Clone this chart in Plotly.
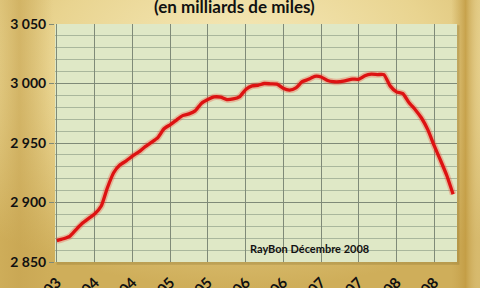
import base64
import plotly.graph_objects as go
import pandas as pd

# monthly values, juil-03 .. oct-08 (en milliards de miles)
months = pd.date_range("2003-07-01", periods=64, freq="MS")
values = [
    2868, 2869.5, 2871.5, 2877, 2882.5, 2886.5, 2890.5, 2897, 2912, 2925,
    2931.5, 2935, 2939, 2942.5, 2947, 2950.5, 2954.5, 2962, 2965.5, 2969.5,
    2973, 2974.5, 2977, 2983.5, 2986.5, 2988.7, 2988.5, 2986.5, 2987, 2988.7,
    2995, 2998, 2998.5, 3000, 2999.7, 2999.5, 2996, 2994.5, 2996.3, 3001.5,
    3003.5, 3006, 3005.5, 3002.5, 3001.5, 3001.5, 3002.5, 3003.7, 3003.5, 3006.5,
    3007.8, 3007.5, 3007.5, 2998, 2993, 2991.5, 2984, 2978, 2971, 2961,
    2948, 2935.5, 2922.5, 2907,
]
x_tick_dates = ["2003-07-01", "2004-01-01", "2004-07-01", "2005-01-01", "2005-07-01",
                "2006-01-01", "2006-07-01", "2007-01-01", "2007-07-01", "2008-01-01",
                "2008-07-01"]
x_tick_labels = ["juil-03", "janv-04", "juil-04", "janv-05", "juil-05", "janv-06",
                 "juil-06", "janv-07", "juil-07", "janv-08", "juil-08"]
y_tick_vals = [2850, 2900, 2950, 3000, 3050]
y_tick_labels = ["2 850", "2 900", "2 950", "3 000", "3 050"]

FONT = "Lato"

# golden gradient background (inline SVG, no network)
svg = """<svg xmlns='http://www.w3.org/2000/svg' width='480' height='288' viewBox='0 0 480 288' preserveAspectRatio='none'>
<defs>
<radialGradient id='g' cx='0.5' cy='0.2' r='0.8'>
<stop offset='0' stop-color='#f6ebbd'/>
<stop offset='0.5' stop-color='#e9d490'/>
<stop offset='1' stop-color='#cfae5a'/>
</radialGradient>
<linearGradient id='h' x1='0' y1='0' x2='1' y2='0'>
<stop offset='0' stop-color='#c7a451' stop-opacity='0.1'/>
<stop offset='0.04' stop-color='#c7a451' stop-opacity='0.6'/>
<stop offset='0.11' stop-color='#c7a451' stop-opacity='0.0'/>
<stop offset='0.94' stop-color='#c7a451' stop-opacity='0.0'/>
<stop offset='0.97' stop-color='#c29b42' stop-opacity='0.85'/>
<stop offset='1' stop-color='#e9d69a' stop-opacity='0.3'/>
</linearGradient>
</defs>
<rect width='480' height='288' fill='url(#g)'/>
<rect width='480' height='288' fill='url(#h)'/>
</svg>"""
bg_src = "data:image/svg+xml;base64," + base64.b64encode(svg.encode()).decode()

fig = go.Figure()
fig.add_trace(go.Scatter(
    x=months, y=values, mode="lines",
    line=dict(color="rgba(240,70,50,0.3)", width=6.5, shape="spline", smoothing=0.5),
    hoverinfo="skip", showlegend=False))
fig.add_trace(go.Scatter(
    x=months, y=values, mode="lines",
    line=dict(color="#dd1212", width=3.3, shape="spline", smoothing=0.5),
    showlegend=False))

fig.update_layout(
    width=480, height=288,
    margin=dict(l=55, r=23, t=24, b=26, autoexpand=False),
    paper_bgcolor="#e6cf8a",
    plot_bgcolor="#dfe8c6",
    font=dict(family=FONT, color="#111111"),
    images=[dict(source=bg_src, xref="paper", yref="paper",
                 x=-55 / 402, y=1 + 24 / 238, sizex=480 / 402, sizey=288 / 238,
                 xanchor="left", yanchor="top", sizing="stretch", layer="below")],
    shapes=[
        # plot-area shadow and fill
        dict(type="rect", xref="paper", yref="paper", x0=0.004, x1=1.006, y0=-0.012, y1=0.995,
             fillcolor="rgba(120,100,40,0.25)", line_width=0, layer="below"),
        dict(type="rect", xref="paper", yref="paper", x0=0, x1=1, y0=0, y1=1,
             fillcolor="#dfe8c6", line_width=0, layer="below"),
    ],
    xaxis=dict(
        range=["2003-06-22", "2008-10-20"],
        tickvals=x_tick_dates, ticktext=x_tick_labels, tickangle=-45,
        showgrid=True, gridcolor="#7f8a78", gridwidth=1,
        ticks="outside", ticklen=5, tickcolor="rgba(0,0,0,0)",
        tickfont=dict(size=15, family=FONT, color="#111111", weight="bold"),
        showline=False, zeroline=False, automargin=False,
    ),
    yaxis=dict(
        range=[2850, 3050],
        tickvals=y_tick_vals, ticktext=y_tick_labels,
        showgrid=True, gridcolor="#7f8a78", gridwidth=1,
        minor=dict(dtick=10, showgrid=True, gridcolor="#a9b79c", gridwidth=1),
        ticks="outside", ticklen=5, tickcolor="#7f8a78",
        tickfont=dict(size=14, family=FONT, color="#111111", weight="bold"),
        showline=False, zeroline=False, automargin=False,
    ),
    annotations=[
        dict(text="(en milliards de miles)", xref="paper", yref="paper",
             x=0.4475, y=1.0, yshift=18, xanchor="center", yanchor="middle",
             showarrow=False, font=dict(size=17, family=FONT, color="#111111", weight="bold")),
        dict(text="RayBon Décembre 2008", xref="paper", yref="paper",
             x=0.632, y=0.057, xanchor="center", yanchor="middle",
             showarrow=False, font=dict(size=11, family=FONT, color="#111111", weight="bold")),
    ],
)

fig.write_html("out.html")
